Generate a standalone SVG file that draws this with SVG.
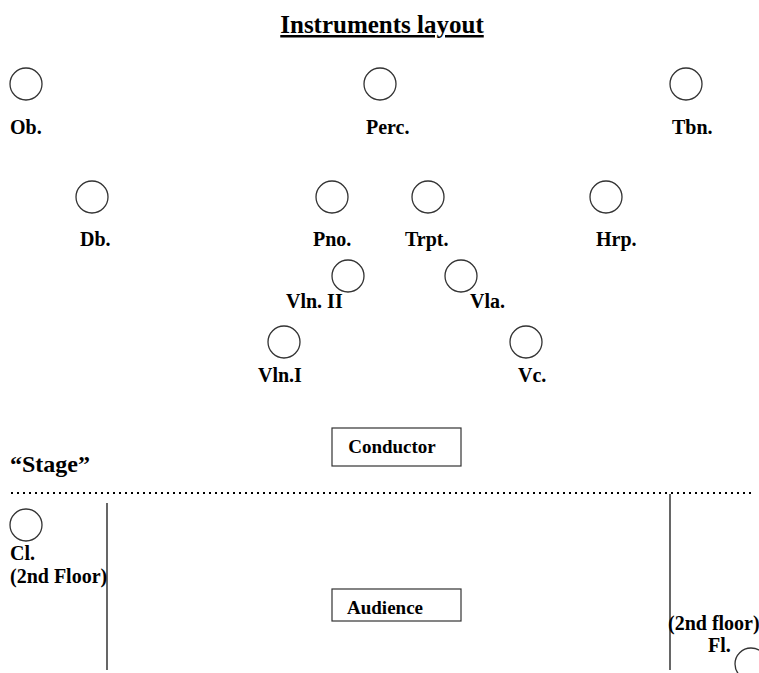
<svg xmlns="http://www.w3.org/2000/svg" width="759" height="673" viewBox="0 0 759 673">
  <style>
    text { font-family: "Liberation Serif", "Times New Roman", serif; font-weight: bold; fill: #000; }
    .title { font-size: 25px; text-decoration: underline; }
    .lbl { font-size: 20px; }
    .box-t { font-size: 19px; }
    .stage { font-size: 24px; }
    .inst { fill: #fff; stroke: #333; stroke-width: 1.3; }
    .box { fill: #fff; stroke: #333; stroke-width: 1.2; }
    .wall { stroke: #000; stroke-width: 1.2; }
    .edge { stroke: #000; stroke-width: 2.2; stroke-dasharray: 2 4; }
  </style>
  <rect width="759" height="673" fill="#fff"/>

  <text class="title" x="382" y="33" text-anchor="middle">Instruments layout</text>

  <g id="ob"><circle class="inst" cx="26" cy="84" r="16"/><text class="lbl" x="10" y="134">Ob.</text></g>
  <g id="perc"><circle class="inst" cx="380" cy="84" r="16"/><text class="lbl" x="366" y="134">Perc.</text></g>
  <g id="tbn"><circle class="inst" cx="686" cy="84" r="16"/><text class="lbl" x="672" y="134">Tbn.</text></g>

  <g id="db"><circle class="inst" cx="92" cy="197" r="16"/><text class="lbl" x="80" y="246">Db.</text></g>
  <g id="pno"><circle class="inst" cx="332" cy="197" r="16"/><text class="lbl" x="313" y="246">Pno.</text></g>
  <g id="trpt"><circle class="inst" cx="428" cy="197" r="16"/><text class="lbl" x="405" y="246">Trpt.</text></g>
  <g id="hrp"><circle class="inst" cx="606" cy="197" r="16"/><text class="lbl" x="596" y="246">Hrp.</text></g>

  <g id="vln2"><circle class="inst" cx="348" cy="276" r="16"/><text class="lbl" x="286" y="308">Vln. II</text></g>
  <g id="vla"><circle class="inst" cx="461" cy="276" r="16"/><text class="lbl" x="470" y="308">Vla.</text></g>
  <g id="vln1"><circle class="inst" cx="284" cy="342" r="16"/><text class="lbl" x="258" y="382">Vln.I</text></g>
  <g id="vc"><circle class="inst" cx="526" cy="342" r="16"/><text class="lbl" x="518" y="382">Vc.</text></g>

  <g id="conductor"><rect class="box" x="332" y="428" width="129" height="38"/><text class="box-t" x="392" y="453" text-anchor="middle">Conductor</text></g>

  <text class="stage" x="10" y="472">“Stage”</text>

  <g id="connectors">
    <line class="edge" x1="11" y1="493" x2="753" y2="493"/>
    <line class="wall" x1="107" y1="503" x2="107" y2="670"/>
    <line class="wall" x1="670" y1="494" x2="670" y2="670"/>
  </g>

  <g id="cl"><circle class="inst" cx="26" cy="525" r="16"/><text class="lbl" x="10" y="560">Cl.</text><text class="lbl" x="10" y="583">(2nd Floor)</text></g>

  <g id="audience"><rect class="box" x="332" y="589" width="129" height="32"/><text class="box-t" x="385" y="614" text-anchor="middle">Audience</text></g>

  <g id="fl"><text class="lbl" x="668" y="630">(2nd floor)</text><text class="lbl" x="708" y="652">Fl.</text><circle class="inst" cx="751" cy="664" r="16"/></g>
</svg>
